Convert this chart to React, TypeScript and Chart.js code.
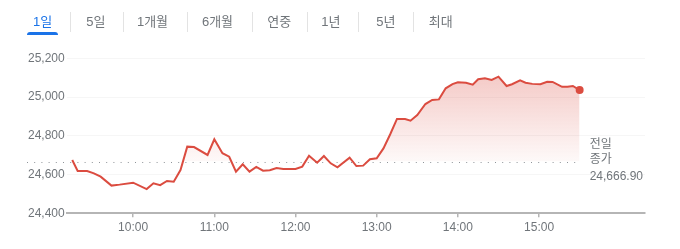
import React, { useEffect, useRef } from "react";
import { Chart, registerables } from "chart.js";

Chart.register(...registerables);

// time of day in minutes after midnight
const minutes = [
  555, 559, 566, 571, 576, 584, 590, 600, 610, 615, 620, 625, 630, 635, 640, 645,
  655, 660, 666, 671, 676, 681, 686, 691, 696, 701, 706, 711, 720, 725, 730, 736,
  741, 746, 751, 760, 765, 770, 775, 780, 785, 790, 795, 801, 805, 810, 816, 821,
  826, 831, 836, 840, 846, 851, 855, 860, 865, 870, 876, 880, 886, 890, 895, 901,
  906, 910, 917, 921, 925, 930,
];
const values = [
  24675, 24618, 24618, 24606, 24589, 24543, 24548, 24558, 24525, 24555, 24545, 24567, 24563, 24623, 24744, 24742,
  24701, 24782, 24710, 24692, 24615, 24653, 24615, 24639, 24620, 24622, 24634, 24629, 24629, 24641, 24697, 24661,
  24696, 24658, 24637, 24687, 24644, 24646, 24679, 24684, 24735, 24808, 24887, 24887, 24878, 24907, 24964, 24985,
  24988, 25045, 25067, 25076, 25074, 25064, 25092, 25097, 25088, 25105, 25057, 25066, 25086, 25074, 25068, 25066,
  25079, 25078, 25053, 25053, 25057, 25036,
];
const previousClose = 24666.9;
const previousCloseLabel = ["전일", "종가", "24,666.90"];
const xTickMinutes = [600, 660, 720, 780, 840, 900];
const yTicks = [24400, 24600, 24800, 25000, 25200];
const tabs = ["1일", "5일", "1개월", "6개월", "연중", "1년", "5년", "최대"];

const tabCenters = [42.5, 95.8, 152.5, 217.5, 279.2, 330.8, 385.8, 440.8];
const separators = [70, 122.7, 186.7, 251.7, 306.7, 358.3, 413.3];

const RED = "#db4c40";
const GRAY = "#70757a";
const FONT = "Arial, 'Liberation Sans', 'Noto Sans CJK KR', sans-serif";

const baselinePlugin = {
  id: "baseline",
  beforeDatasetsDraw(chart: any) {
    const { ctx } = chart;
    const y = chart.scales.y.getPixelForValue(previousClose);
    const xEnd = chart.scales.x.getPixelForValue(minutes[minutes.length - 1]);
    ctx.save();
    ctx.strokeStyle = "#8f9499";
    ctx.lineWidth = 1;
    ctx.setLineDash([1, 6.2]);
    ctx.beginPath();
    ctx.moveTo(27, Math.round(y) + 0.5);
    ctx.lineTo(xEnd, Math.round(y) + 0.5);
    ctx.stroke();
    ctx.restore();
  },
  afterDatasetsDraw(chart: any) {
    const { ctx } = chart;
    const y = chart.scales.y.getPixelForValue(previousClose);
    const xEnd = chart.scales.x.getPixelForValue(minutes[minutes.length - 1]);
    ctx.save();
    ctx.fillStyle = GRAY;
    ctx.font = `12px ${FONT}`;
    ctx.textAlign = "left";
    ctx.textBaseline = "middle";
    const offsets = [-17, -2, 15];
    previousCloseLabel.forEach((t, i) => ctx.fillText(t, xEnd + 10, y + offsets[i]));
    ctx.restore();
  },
};

export default function App() {
  const canvasRef = useRef<HTMLCanvasElement | null>(null);

  useEffect(() => {
    const canvas = canvasRef.current!;
    const last = values.length - 1;
    const chart = new Chart(canvas, {
      type: "line",
      data: {
        datasets: [
          {
            data: minutes.map((m, i) => ({ x: m, y: values[i] })),
            borderColor: RED,
            borderWidth: 2,
            tension: 0,
            pointRadius: (c: any) => (c.dataIndex === last ? 4 : 0),
            pointBackgroundColor: RED,
            pointBorderWidth: 0,
            fill: {
              target: { value: previousClose },
              above: (c: any) => {
                const ch = c.chart;
                const area = ch.chartArea;
                if (!area) return "rgba(217,70,58,0.15)";
                const y0 = ch.scales.y.getPixelForValue(25100);
                const y1 = ch.scales.y.getPixelForValue(previousClose);
                const g = ch.ctx.createLinearGradient(0, y0, 0, y1);
                g.addColorStop(0, "rgba(217,70,58,0.28)");
                g.addColorStop(1, "rgba(217,70,58,0.03)");
                return g;
              },
              below: "rgba(0,0,0,0)",
            },
          } as any,
        ],
      },
      options: {
        responsive: false,
        animation: false,
        devicePixelRatio: 1,
        layout: { padding: { top: 58.3, right: 35, left: 0, bottom: 0 } },
        plugins: { legend: { display: false }, tooltip: { enabled: false } },
        scales: {
          x: {
            type: "linear",
            min: 550.9,
            max: 978.3,
            afterBuildTicks: (s: any) => {
              s.ticks = xTickMinutes.map((v) => ({ value: v }));
            },
            afterFit: (s: any) => {
              s.height = 35.7;
            },
            ticks: {
              color: GRAY,
              font: { size: 12, family: FONT },
              padding: 3,
              maxRotation: 0,
              autoSkip: false,
              callback: (v: any) => `${Math.floor(Number(v) / 60)}:00`,
            },
            grid: {
              drawOnChartArea: false,
              drawTicks: true,
              tickLength: 4,
              color: "#b5b5b5",
              lineWidth: 1.5,
            },
            border: { display: true, color: "#b5b5b5", width: 2 },
          },
          y: {
            min: 24400,
            max: 25200,
            afterBuildTicks: (s: any) => {
              s.ticks = yTicks.map((v) => ({ value: v }));
            },
            afterFit: (s: any) => {
              s.width = 66.7;
            },
            ticks: {
              color: GRAY,
              font: { size: 12, family: FONT },
              padding: 2,
              callback: (v: any) => Number(v).toLocaleString("en-US"),
            },
            grid: { color: "rgba(0,0,0,0.035)", drawTicks: false, lineWidth: 1 },
            border: { display: false },
          },
        },
      },
      plugins: [baselinePlugin],
    } as any);
    return () => chart.destroy();
  }, []);

  return (
    <div
      style={{
        position: "absolute",
        left: 0,
        top: 0,
        width: 680,
        height: 249,
        background: "#fff",
        fontFamily: FONT,
        overflow: "hidden",
      }}
    >
      <canvas ref={canvasRef} width={680} height={249} style={{ position: "absolute", left: 0, top: 0 }} />
      {tabs.map((t, i) => (
        <div
          key={t}
          style={{
            position: "absolute",
            left: tabCenters[i],
            top: 12,
            transform: "translateX(-50%)",
            fontSize: 13,
            lineHeight: "19px",
            whiteSpace: "nowrap",
            color: i === 0 ? "#1a73e8" : GRAY,
          }}
        >
          {t}
        </div>
      ))}
      <div
        style={{
          position: "absolute",
          left: 27.3,
          top: 32,
          width: 30.4,
          height: 3,
          background: "#1a73e8",
          borderRadius: "3px 3px 0 0",
        }}
      />
      {separators.map((x) => (
        <div
          key={x}
          style={{ position: "absolute", left: x, top: 12, width: 1, height: 20, background: "#e3e3e3" }}
        />
      ))}
    </div>
  );
}
